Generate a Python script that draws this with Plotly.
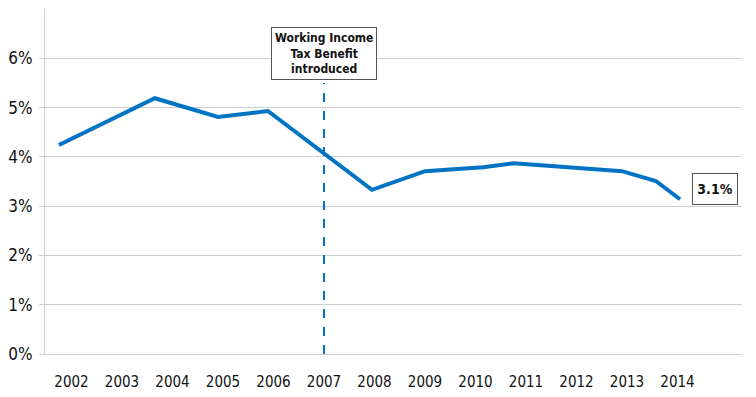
import plotly.graph_objects as go

# Data (x as fractional year positions, y in percent)
x_years = [2001.75, 2003.65, 2004.90, 2005.89, 2007.95, 2009.00, 2010.15, 2010.76, 2012.90, 2013.57, 2014.05]
y_rate = [4.24, 5.19, 4.81, 4.93, 3.33, 3.71, 3.79, 3.87, 3.71, 3.51, 3.14]
year_labels = [str(y) for y in range(2002, 2015)]
year_ticks = list(range(2002, 2015))
y_ticks = [0, 1, 2, 3, 4, 5, 6]
y_tick_text = [f"{v}%" for v in y_ticks]
event_year = 2007
event_text = "<b>Working Income<br>Tax Benefit<br>introduced</b>"
last_label = "3.1%"

FONT = "Liberation Sans Narrow, DejaVu Sans Condensed, Arial Narrow, sans-serif"
BLUE = "#0073C4"
GRID = "#CFCFCF"

fig = go.Figure()
fig.add_trace(go.Scatter(
    x=x_years, y=y_rate, mode="lines",
    line=dict(color=BLUE, width=4),
    hoverinfo="skip", showlegend=False,
))

# dashed vertical event line
fig.add_shape(type="line", xref="x", yref="y",
              x0=event_year, x1=event_year, y0=0, y1=5.5,
              line=dict(color=BLUE, width=2, dash="dash"))

fig.add_annotation(x=event_year, y=6.09, xref="x", yref="y",
                   text=event_text, showarrow=False,
                   font=dict(family=FONT, size=12, color="#111111"),
                   bordercolor="#555555", borderwidth=1, borderpad=3,
                   bgcolor="white", align="center")

fig.add_annotation(x=2014.74, y=3.35, xref="x", yref="y",
                   text=f"<b>{last_label}</b>", showarrow=False,
                   width=38, height=24,
                   font=dict(family=FONT, size=14, color="#111111"),
                   bordercolor="#555555", borderwidth=1, borderpad=3,
                   bgcolor="white", align="center", valign="middle")

fig.update_layout(
    width=756, height=397,
    margin=dict(l=45, r=14, t=9, b=43),
    paper_bgcolor="white", plot_bgcolor="white",
    font=dict(family=FONT, size=16, color="#111111"),
)
fig.update_xaxes(
    range=[2001.475, 2015.277], automargin=False,
    tickmode="array", tickvals=year_ticks, ticktext=year_labels,
    showgrid=False, zeroline=False,
    showline=True, linecolor=GRID, linewidth=1,
    ticks="", ticklabelstandoff=14,
    tickfont=dict(family=FONT, size=15, color="#111111"),
)
fig.update_yaxes(
    range=[0, 7], automargin=False,
    tickmode="array", tickvals=y_ticks, ticktext=y_tick_text,
    showgrid=True, gridcolor=GRID, gridwidth=1,
    zeroline=False,
    showline=True, linecolor=GRID, linewidth=1,
    ticks="outside", ticklen=5, tickcolor=GRID,
    ticklabelstandoff=3,
    tickfont=dict(family=FONT, size=17, color="#111111"),
)

fig.write_html("out.html", config={"displayModeBar": False},
               post_script="document.body.style.margin='0';")
